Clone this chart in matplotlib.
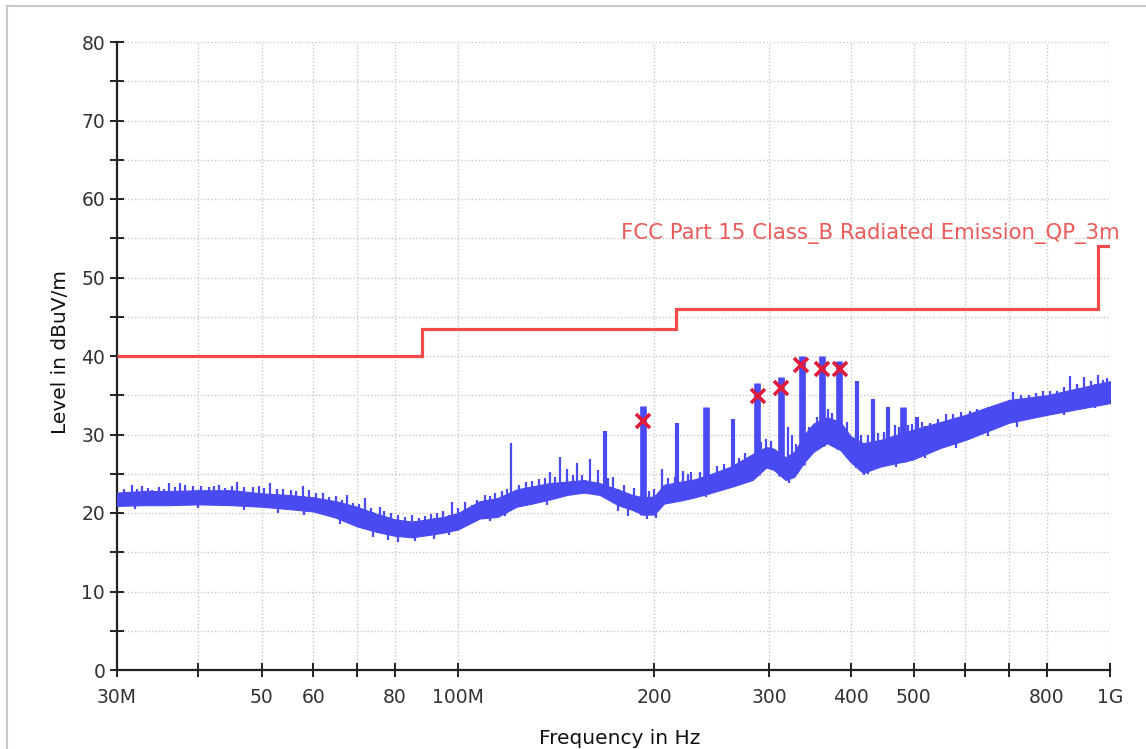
import numpy as np
import matplotlib
matplotlib.use("Agg")
import matplotlib.pyplot as plt
from matplotlib.lines import Line2D
from matplotlib.ticker import FixedLocator, FixedFormatter, NullLocator

# ---------------- data ----------------
# noise-floor envelope of the measured trace (MHz, dBuV/m)
env_freq = [30, 33, 36, 40, 45, 50, 55, 60, 65, 70, 75, 80, 85, 90, 95, 100,
            108, 115, 123, 130, 138, 147, 156, 165, 176, 185, 192, 200, 207,
            220, 231, 245, 262, 283, 297, 305, 318, 328, 340, 351, 368, 386,
            400, 418, 444, 498, 550, 600, 700, 800, 1000]
env_low = [20.9, 21.0, 21.0, 21.1, 21.0, 20.8, 20.5, 20.2, 19.4, 18.3, 17.6,
           17.1, 16.9, 17.2, 17.5, 17.9, 19.3, 19.5, 20.8, 21.2, 21.7, 22.3,
           22.6, 22.3, 21.0, 20.4, 19.8, 19.8, 21.2, 21.6, 22.0, 22.6, 23.3,
           24.2, 25.8, 25.5, 24.2, 24.6, 26.5, 27.8, 28.9, 28.0, 26.5, 25.1,
           25.9, 26.8, 28.3, 29.3, 31.5, 32.5, 34.0]
env_high = [22.6, 22.8, 22.8, 22.9, 22.9, 22.5, 22.3, 22.0, 21.5, 20.8, 19.9,
            19.2, 18.9, 19.2, 19.5, 20.0, 21.5, 21.9, 23.0, 23.4, 23.8, 24.0,
            24.2, 23.8, 23.0, 22.3, 22.0, 22.1, 23.6, 24.0, 24.3, 25.0, 25.9,
            27.5, 28.4, 28.2, 27.1, 27.8, 30.0, 31.4, 32.2, 31.6, 29.8, 28.9,
            29.3, 30.6, 31.6, 32.5, 34.4, 35.0, 36.8]

# strong emission lines
wide_freq = [192, 240.3, 288, 313, 337.2, 361.5, 384, 481.6]
wide_top = [33.6, 33.5, 36.6, 37.3, 40.0, 40.0, 39.4, 33.5]
mid_freq = [168.3, 217, 264.4, 409.4, 433, 456.8, 506]
mid_top = [30.5, 31.5, 32.0, 36.8, 34.5, 33.5, 32.2]
thin_freq = [120.4, 143.6, 146.9, 152.3, 159.4, 205.9, 221, 228, 297, 320.9,
             325.5, 369, 425.5, 468, 497]
thin_top = [28.9, 27.1, 25.6, 26.4, 26.9, 25.6, 25.3, 25.2, 29.4, 31.0,
            29.9, 33.2, 29.9, 31.2, 31.4]

# small noise spikes above the floor
grass_freq = [30.8, 31.6, 32.2, 32.8, 33.5, 34.0, 34.8, 35.4, 36.1, 36.8,
              37.5, 38.2, 39.2, 40.4, 41.5, 42.2, 43.0, 44.0, 45.0, 45.9,
              47.0, 48.5, 49.5, 50.5, 51.5, 52.8, 54.0, 55.5, 56.5, 57.8,
              59.0, 60.5, 62.0, 63.5, 65.0, 66.5, 67.6, 69.0, 70.5, 72.0,
              73.5, 75.9, 77.0, 79.0, 81.0, 83.0, 85.0, 87.0, 89.0, 91.0,
              93.0, 95.0, 97.8, 100, 102.5, 105, 107, 110, 112, 114,
              117, 119, 124, 127, 130, 133, 136, 138.6, 141, 150,
              155, 164, 170, 173.1, 180, 186, 196, 200, 210, 215,
              225, 235, 250, 256, 270, 276, 292, 302, 330, 345,
              355, 375, 395, 415, 440, 450, 475, 490, 515, 530,
              545, 560, 575, 590, 610, 625, 638.8, 660, 680, 710,
              730, 750, 770, 790, 810, 830, 850, 869.7, 890, 913.7,
              935, 957, 975, 990]
grass_top = [23.0, 23.6, 23.1, 23.5, 23.2, 22.9, 23.3, 23.0, 23.8, 23.3,
             23.8, 23.6, 23.4, 23.5, 23.3, 23.4, 23.6, 23.2, 23.4, 23.9,
             23.3, 23.3, 23.4, 23.2, 23.8, 23.1, 23.0, 22.9, 22.8, 23.5,
             22.9, 22.6, 22.6, 22.0, 22.2, 21.6, 22.3, 21.3, 21.1, 21.9,
             20.6, 20.8, 20.2, 20.0, 19.8, 19.5, 19.7, 19.4, 19.6, 19.9,
             20.0, 20.3, 21.4, 20.6, 21.4, 21.0, 21.6, 22.3, 22.2, 22.6,
             22.8, 23.0, 23.6, 24.0, 24.1, 24.3, 24.4, 25.2, 24.6, 24.8,
             24.9, 25.5, 24.5, 24.6, 23.6, 23.2, 22.8, 23.0, 24.4, 24.6,
             25.0, 25.2, 26.0, 26.3, 27.0, 27.6, 29.0, 29.2, 28.8, 31.0,
             32.2, 32.8, 31.6, 30.0, 30.2, 30.3, 30.9, 31.2, 31.6, 31.5,
             32.0, 32.6, 32.6, 32.9, 33.0, 33.2, 33.1, 33.6, 34.0, 35.4,
             35.0, 35.0, 35.3, 35.5, 35.6, 35.6, 36.0, 37.4, 36.4, 37.3,
             36.8, 37.6, 37.0, 37.2]

# small noise dips below the floor
dip_freq = [32, 40, 47, 53, 58, 66, 74, 78, 81, 86, 92, 97, 112, 118, 137,
            176, 182, 195, 201, 240, 322, 420, 425, 470, 520, 580, 650, 720,
            850, 950]
dip_bottom = [20.5, 20.6, 20.4, 20.0, 19.8, 18.6, 17.0, 16.6, 16.3, 16.4,
              16.7, 17.2, 19.0, 19.6, 21.0, 20.3, 19.6, 19.2, 19.3, 22.0,
              23.8, 24.8, 25.0, 25.8, 27.0, 28.3, 29.8, 31.0, 32.5, 33.4]

# quasi-peak marker results
mark_freq = [192.2, 288.5, 313, 336, 361.7, 385]
mark_level = [31.7, 34.9, 35.9, 38.9, 38.3, 38.3]

# FCC limit
limit_edges = [30, 88, 216, 960, 1000]
limit_levels = [40, 43.5, 46, 54]
limit_label = "FCC Part 15 Class_B Radiated Emission_QP_3m"

# axis ticks
xtick_vals = [30, 40, 50, 60, 70, 80, 100, 200, 300, 400, 500, 600, 700, 800, 1000]
xtick_labels = ["30M", "", "50", "60", "", "80", "100M", "200", "300", "400",
                "500", "", "", "800", "1G"]
ytick_vals = [0, 10, 20, 30, 40, 50, 60, 70, 80]

# ---------------- drawing ----------------
BLUE = "#4a4af2"
RED = "#f04a4a"
MARK = "#e01c3c"

plt.rcParams["font.family"] = ["DejaVu Sans"]
fig = plt.figure(figsize=(11.46, 7.49), dpi=100)
ax = fig.add_axes([117 / 1146, 1 - 670 / 749, (1110 - 117) / 1146, (670 - 42) / 749])

ax.set_xscale("log")
ax.set_xlim(30, 1000)
ax.set_ylim(0, 80)

# grid
ax.xaxis.set_major_locator(FixedLocator(xtick_vals))
ax.xaxis.set_major_formatter(FixedFormatter(xtick_labels))
ax.xaxis.set_minor_locator(NullLocator())
ax.yaxis.set_major_locator(FixedLocator(ytick_vals))
ax.yaxis.set_minor_locator(FixedLocator(np.arange(5, 80, 10)))
ax.grid(True, which="both", color="#c8c8c8", linestyle=(0, (1, 1.5)), linewidth=1.0)
ax.set_axisbelow(True)

# trace floor
ef = np.array(env_freq, float)
lo = np.array(env_low, float)
hi = np.array(env_high, float)
ax.fill_between(ef, lo, hi, color=BLUE, linewidth=0.8, edgecolor=BLUE, zorder=3)

lf = np.log10(ef)
def low_at(freqs):
    return np.interp(np.log10(freqs), lf, lo)
def high_at(freqs):
    return np.interp(np.log10(freqs), lf, hi)

ax.vlines(grass_freq, low_at(grass_freq), grass_top, color=BLUE, linewidth=1.6, zorder=3)
ax.vlines(dip_freq, dip_bottom, high_at(dip_freq), color=BLUE, linewidth=1.6, zorder=3)
ax.vlines(thin_freq, low_at(thin_freq), thin_top, color=BLUE, linewidth=1.6, zorder=3)
ax.vlines(mid_freq, low_at(mid_freq), mid_top, color=BLUE, linewidth=3.0, zorder=3)
ax.vlines(wide_freq, low_at(wide_freq), wide_top, color=BLUE, linewidth=4.8, zorder=3)

# limit line
ax.stairs(limit_levels, limit_edges, color=RED, linewidth=2.3, baseline=None, zorder=4)
ax.text(178, 55.6, limit_label, color="#ec5a5a", fontsize=15.3, va="center",
        ha="left", clip_on=False, zorder=5)

# markers
ax.plot(mark_freq, mark_level, linestyle="none", marker="x", markersize=10,
        markeredgewidth=2.6, color=MARK, zorder=6)

# axes styling
for s in ["top", "right"]:
    ax.spines[s].set_visible(False)
for s in ["left", "bottom"]:
    ax.spines[s].set_linewidth(1.6)
    ax.spines[s].set_color("#222222")
ax.tick_params(which="both", direction="inout", length=10, width=1.4, color="#222222")
ax.tick_params(axis="y", which="major", pad=3.5, labelsize=13.5, labelcolor="#333333")
ax.tick_params(axis="x", which="major", pad=8, labelsize=13.5, labelcolor="#333333")
ax.tick_params(axis="y", which="minor", length=10, width=1.4)

fig.text(60 / 1146, 1 - 352 / 749, "Level in dBuV/m", rotation=90, ha="center",
         va="center", fontsize=14.5, color="#111111")
fig.text(620 / 1146, 1 - 738 / 749, "Frequency in Hz", ha="center", va="center",
         fontsize=14.5, color="#111111")

# outer frame (left/top visible)
fig.add_artist(Line2D([7 / 1146, 7 / 1146], [0, 1 - 6 / 749], transform=fig.transFigure,
                      color="#c8c8c8", linewidth=1.5))
fig.add_artist(Line2D([7 / 1146, 1], [1 - 6 / 749, 1 - 6 / 749], transform=fig.transFigure,
                      color="#c8c8c8", linewidth=1.5))

fig.savefig("out.png", dpi=100)
